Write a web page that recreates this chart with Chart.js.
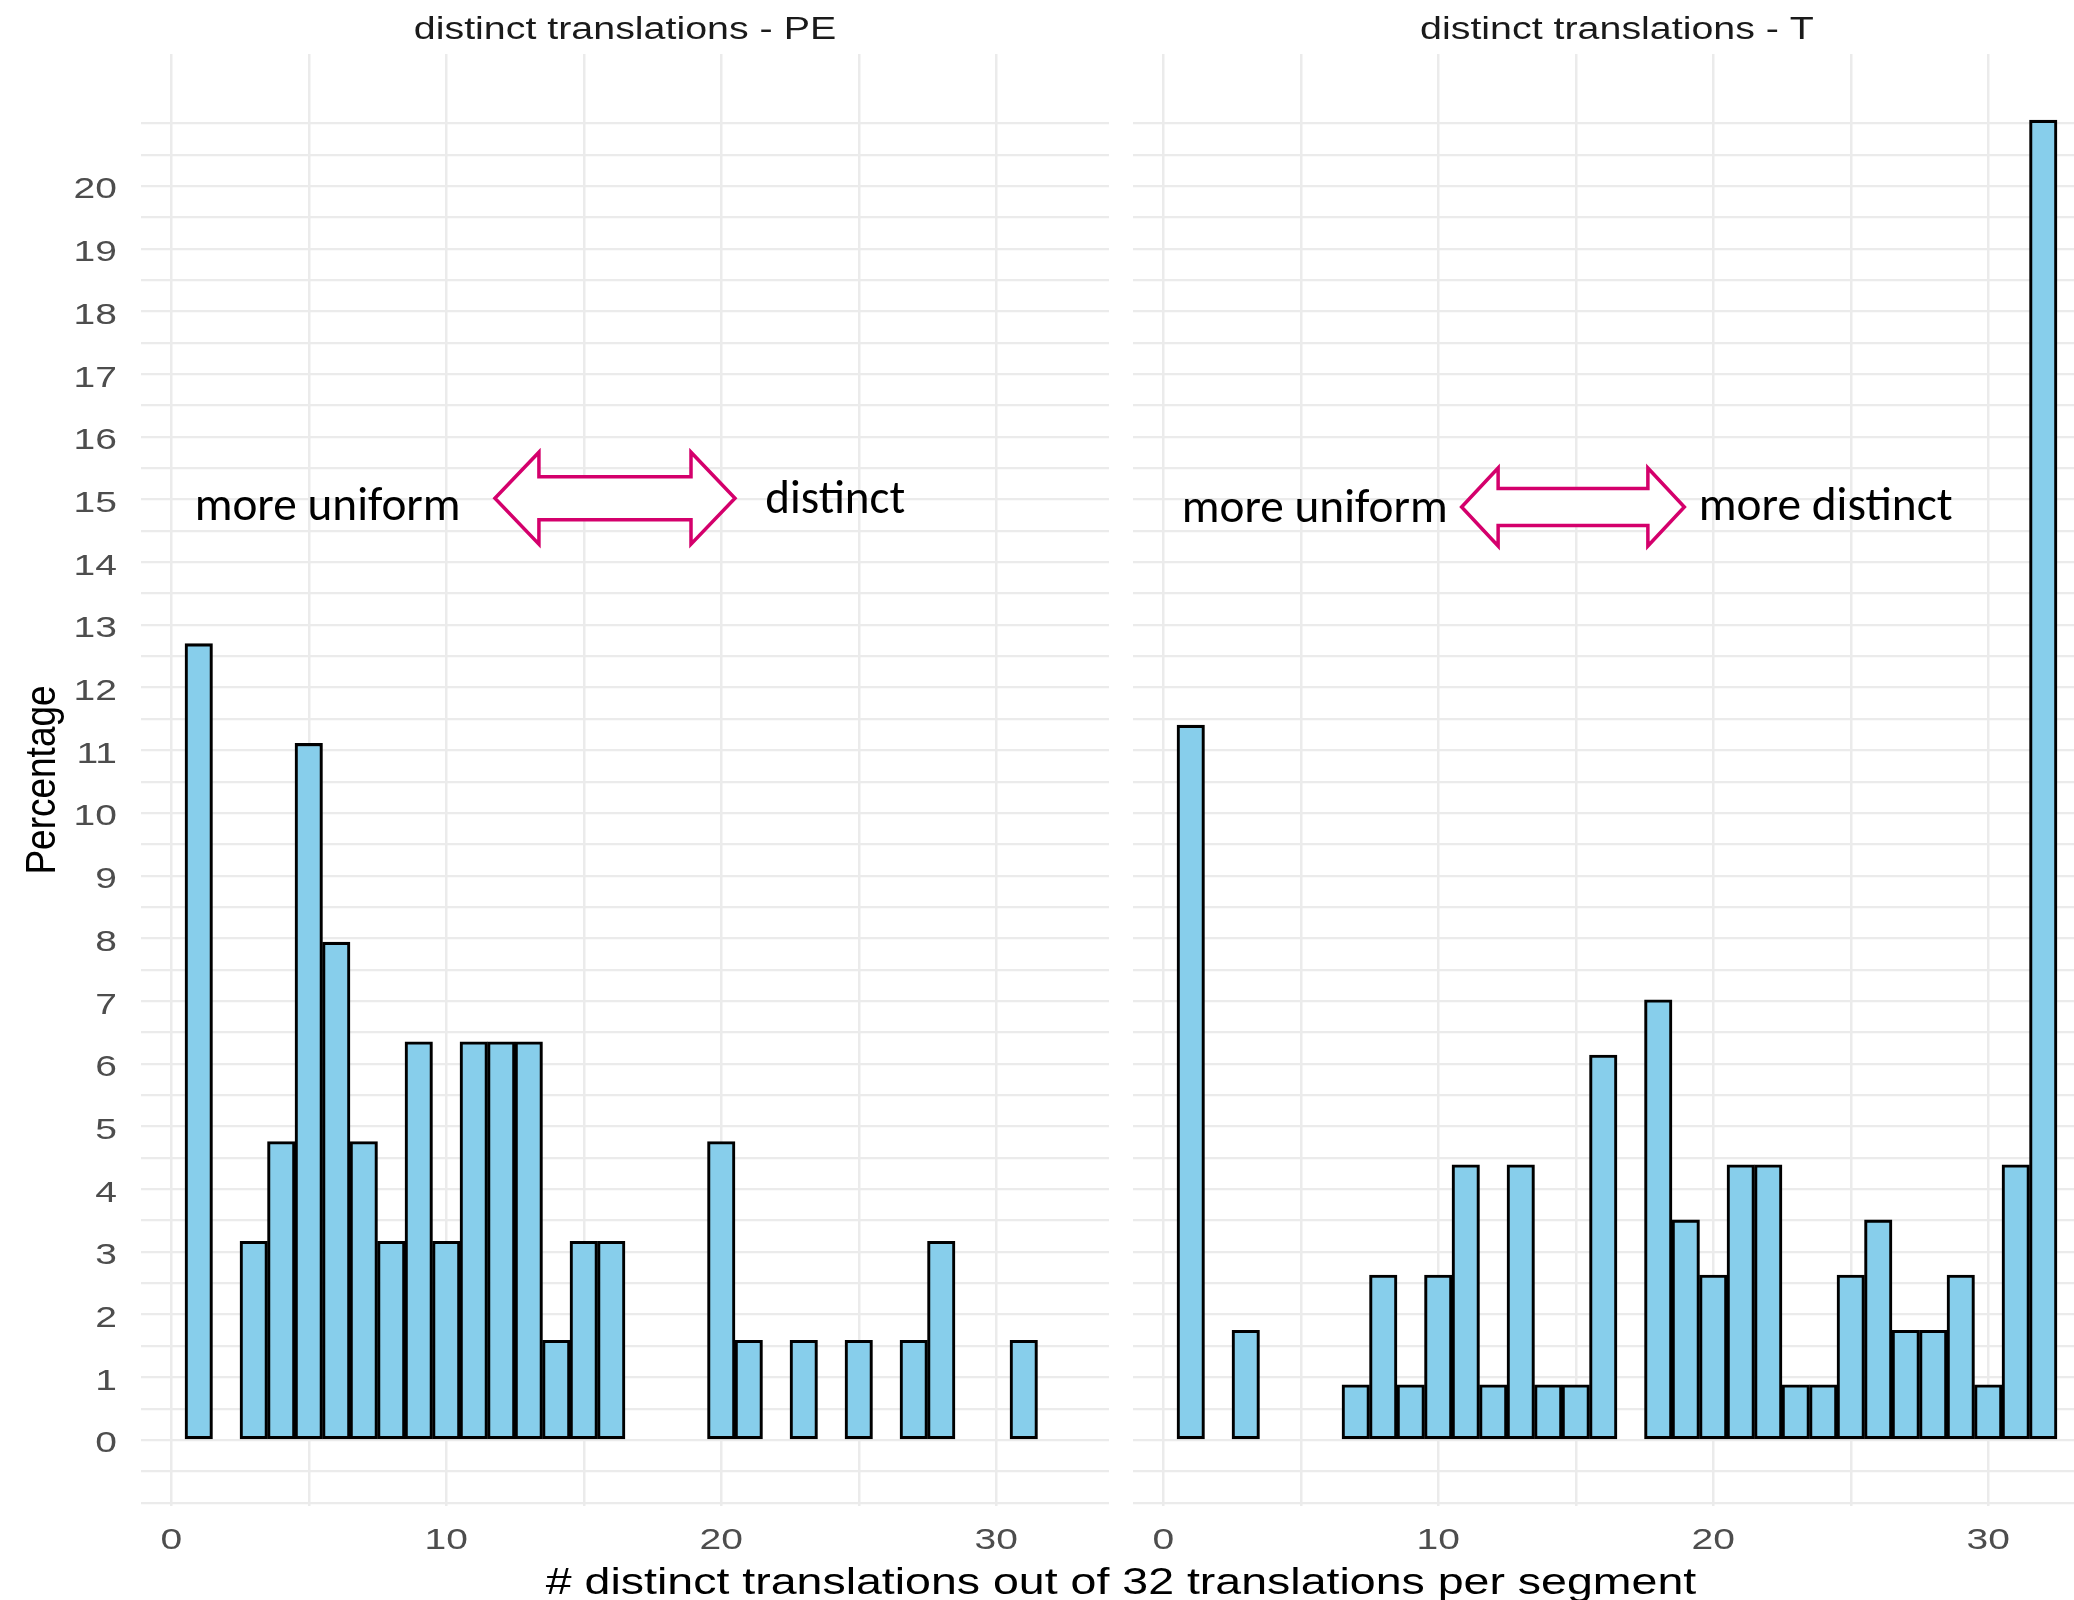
<!DOCTYPE html>
<html>
<head>
<meta charset="utf-8">
<script src="https://cdn.jsdelivr.net/npm/chart.js@4.4.1/dist/chart.umd.min.js"></script>
<style>
  html, body { margin: 0; padding: 0; background: #ffffff; }
  #wrap { position: relative; width: 2074px; height: 1600px; overflow: hidden; background: #ffffff; }
  #wrap canvas { position: absolute; left: 0; top: 0; }
</style>
</head>
<body>
<div id="wrap">
  <canvas id="pe" width="2112" height="1600"></canvas>
  <canvas id="tt" width="2112" height="1600"></canvas>
</div>
<script>
// ---------------- data ----------------
const bins = [1, 2, 3, 4, 5, 6, 7, 8, 9, 10, 11, 12, 13, 14, 15, 16,
              17, 18, 19, 20, 21, 22, 23, 24, 25, 26, 27, 28, 29, 30, 31, 32];

// percentage of segments, panel "distinct translations - PE" (null = empty bin)
const pePercent = [12.70, null, 3.17, 4.76, 11.11, 7.94, 4.76, 3.17, 6.35, 3.17, 6.35, 6.35, 6.35, 1.59, 3.17, 3.17,
                   null, null, null, 4.76, 1.59, null, 1.59, null, 1.59, null, 1.59, 3.17, null, null, 1.59, null];

// percentage of segments, panel "distinct translations - T"
const tPercent = [11.40, null, 1.75, null, null, null, 0.88, 2.63, 0.88, 2.63, 4.39, 0.88, 4.39, 0.88, 0.88, 6.14,
                  null, 7.02, 3.51, 2.63, 4.39, 4.39, 0.88, 0.88, 2.63, 3.51, 1.75, 1.75, 2.63, 0.88, 4.39, 21.05];

const panelTitles = ['distinct translations - PE', 'distinct translations - T'];
const xTickLabels = [0, 10, 20, 30];
const xGridValues = [0, 5, 10, 15, 20, 25, 30];
const yTickLabels = [0, 1, 2, 3, 4, 5, 6, 7, 8, 9, 10, 11, 12, 13, 14, 15, 16, 17, 18, 19, 20];
const yGridValues = [-1, -0.5, 0, 0.5, 1, 1.5, 2, 2.5, 3, 3.5, 4, 4.5, 5, 5.5, 6, 6.5, 7, 7.5, 8, 8.5, 9, 9.5,
                     10, 10.5, 11, 11.5, 12, 12.5, 13, 13.5, 14, 14.5, 15, 15.5, 16, 16.5, 17, 17.5, 18, 18.5,
                     19, 19.5, 20, 20.5, 21];
const xTitle = '# distinct translations out of 32 translations per segment';
const yTitle = 'Percentage';
const xRange = [-1.1, 34.1];
const yRange = [-1.053, 22.105];

// annotation texts (anchored in data coordinates of each panel)
const peNotes = [
  { type: 'text', text: 'more uniform', x: 0.85, y: 14.67, width: 266 },
  { type: 'arrow', x1: 11.77, x2: 20.5, y: 15.02, head: 44, headHalf: 46, shaftHalf: 21.5 },
  { type: 'text', text: 'distinct', x: 21.6, y: 14.78, width: 140 }
];
const tNotes = [
  { type: 'text', text: 'more uniform', x: 0.67, y: 14.64, width: 266 },
  { type: 'arrow', x1: 10.85, x2: 18.95, y: 14.88, head: 36.5, headHalf: 39, shaftHalf: 18.5 },
  { type: 'text', text: 'more distinct', x: 19.47, y: 14.68, width: 254 }
];

// ---------------- style / layout ----------------
const CANVAS_W = 2112;
const PAD = { top: 54, bottom: 94, peLeft: 141, peRight: CANVAS_W - 1109, tLeft: 1133, tRight: CANVAS_W - 2101 };
const ARIAL = '"Liberation Sans", Arial, sans-serif';
const NOTE_FONT = 'Carlito, Lato, "Open Sans", sans-serif';
const STYLE = {
  barFill: '#87CEEB', barLine: '#000000', grid: '#EBEBEB',
  tickColor: '#4D4D4D', stripColor: '#1A1A1A', titleColor: '#000000',
  arrowColor: '#D4006C'
};

function drawText(ctx, text, x, y, o) {
  ctx.save();
  ctx.font = o.font;
  ctx.fillStyle = o.color;
  ctx.textBaseline = 'alphabetic';
  ctx.textAlign = o.align || 'center';
  ctx.translate(x, y);
  if (o.rotate) ctx.rotate(o.rotate);
  let sx = o.sx || 1;
  if (o.width) sx = o.width / ctx.measureText(text).width;
  ctx.scale(sx, o.sy || 1);
  ctx.fillText(text, 0, 0);
  ctx.restore();
}

const panelText = {
  id: 'panelText',
  afterDraw(chart, args, opts) {
    const ctx = chart.ctx, xs = chart.scales.x, ys = chart.scales.y, ca = chart.chartArea;
    // strip title
    drawText(ctx, opts.title, (ca.left + ca.right) / 2, 39,
      { font: '31px ' + ARIAL, color: STYLE.stripColor, sx: 1.27 });
    // x tick labels
    xTickLabels.forEach(v => drawText(ctx, String(v), xs.getPixelForValue(v), 1549,
      { font: '30px ' + ARIAL, color: STYLE.tickColor, sx: 1.3 }));
    if (opts.leftAxis) {
      yTickLabels.forEach(v => drawText(ctx, String(v), 117, ys.getPixelForValue(v) + 12.5,
        { font: '30px ' + ARIAL, color: STYLE.tickColor, sx: 1.3, align: 'right' }));
      drawText(ctx, yTitle, 55, (ca.top + ca.bottom) / 2,
        { font: '37px ' + ARIAL, color: STYLE.titleColor, rotate: -Math.PI / 2, sy: 1.15 });
      drawText(ctx, xTitle, (PAD.peLeft + CANVAS_W - PAD.tRight) / 2, 1594,
        { font: '37px ' + ARIAL, color: STYLE.titleColor, sx: 1.257 });
    }
    // annotations
    (opts.notes || []).forEach(n => {
      if (n.type === 'text') {
        drawText(ctx, n.text, xs.getPixelForValue(n.x), ys.getPixelForValue(n.y),
          { font: '47px ' + NOTE_FONT, color: '#000000', align: 'left', width: n.width });
      } else {
        const xl = xs.getPixelForValue(n.x1), xr = xs.getPixelForValue(n.x2), yc = ys.getPixelForValue(n.y);
        ctx.save();
        ctx.beginPath();
        ctx.moveTo(xl, yc);
        ctx.lineTo(xl + n.head, yc - n.headHalf);
        ctx.lineTo(xl + n.head, yc - n.shaftHalf);
        ctx.lineTo(xr - n.head, yc - n.shaftHalf);
        ctx.lineTo(xr - n.head, yc - n.headHalf);
        ctx.lineTo(xr, yc);
        ctx.lineTo(xr - n.head, yc + n.headHalf);
        ctx.lineTo(xr - n.head, yc + n.shaftHalf);
        ctx.lineTo(xl + n.head, yc + n.shaftHalf);
        ctx.lineTo(xl + n.head, yc + n.headHalf);
        ctx.closePath();
        ctx.fillStyle = '#ffffff';
        ctx.fill();
        ctx.lineWidth = 3.5;
        ctx.lineJoin = 'miter';
        ctx.strokeStyle = STYLE.arrowColor;
        ctx.stroke();
        ctx.restore();
      }
    });
  }
};

function makePanel(id, values, padLeft, padRight, title, leftAxis, notes) {
  const points = [];
  bins.forEach((b, i) => { if (values[i] !== null) points.push({ x: b, y: values[i] }); });
  return new Chart(document.getElementById(id), {
    type: 'bar',
    data: {
      datasets: [{
        data: points,
        backgroundColor: STYLE.barFill,
        borderColor: STYLE.barLine,
        borderWidth: 3.1,
        borderSkipped: false,
        barPercentage: 1,
        categoryPercentage: 1,
        grouped: false
      }]
    },
    options: {
      responsive: false,
      animation: false,
      events: [],
      layout: { padding: { left: padLeft, right: padRight, top: PAD.top, bottom: PAD.bottom } },
      plugins: {
        legend: { display: false },
        tooltip: { enabled: false },
        panelText: { title: title, leftAxis: leftAxis, notes: notes }
      },
      scales: {
        x: {
          type: 'linear', min: xRange[0], max: xRange[1], offset: false,
          ticks: { display: false },
          grid: { color: STYLE.grid, lineWidth: 2.5, drawTicks: false, offset: false },
          border: { display: false },
          afterBuildTicks: s => { s.ticks = xGridValues.map(v => ({ value: v })); }
        },
        y: {
          type: 'linear', min: yRange[0], max: yRange[1],
          ticks: { display: false },
          grid: { color: STYLE.grid, lineWidth: 2.2, drawTicks: false },
          border: { display: false },
          afterBuildTicks: s => { s.ticks = yGridValues.map(v => ({ value: v })); }
        }
      }
    },
    plugins: [panelText]
  });
}

makePanel('pe', pePercent, PAD.peLeft, PAD.peRight, panelTitles[0], true, peNotes);
makePanel('tt', tPercent, PAD.tLeft, PAD.tRight, panelTitles[1], false, tNotes);
</script>
</body>
</html>
